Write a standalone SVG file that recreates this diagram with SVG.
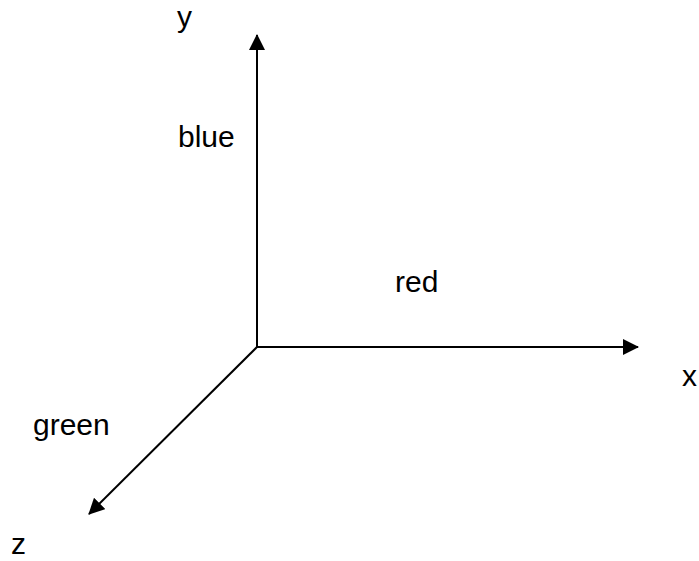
<svg xmlns="http://www.w3.org/2000/svg" width="699" height="561" viewBox="0 0 699 561">
<style>
text{font-family:"Liberation Sans",Arial,sans-serif;font-size:30px;fill:#000}
.ax{stroke:#000;stroke-width:2;fill:none}
</style>
<defs>
<marker id="ah" viewBox="0 0 16 16" refX="15" refY="8" markerWidth="16" markerHeight="16" markerUnits="userSpaceOnUse" orient="auto">
<path d="M0,0 L16,8 L0,16 Z" fill="#000"/>
</marker>
</defs>
<rect width="699" height="561" fill="#fff"/>
<g id="connectors">
<line class="ax" x1="257" y1="347" x2="257" y2="35" marker-end="url(#ah)"/>
<line class="ax" x1="257" y1="347" x2="638" y2="347" marker-end="url(#ah)"/>
<line class="ax" x1="257" y1="347" x2="89" y2="514" marker-end="url(#ah)"/>
</g>
<g id="labels">
<text x="177" y="27">y</text>
<text x="178" y="147">blue</text>
<text x="395" y="292">red</text>
<text x="682" y="386">x</text>
<text x="33" y="435">green</text>
<text x="11" y="554">z</text>
</g>
</svg>
